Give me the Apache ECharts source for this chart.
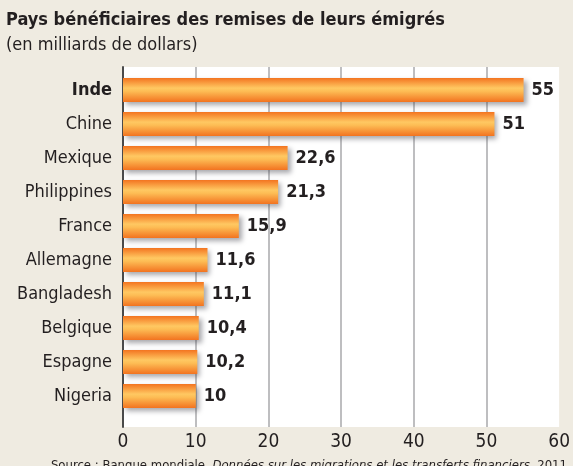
<!DOCTYPE html>
<html>
<head>
<meta charset="utf-8">
<script src="https://cdn.jsdelivr.net/npm/echarts@6/dist/echarts.min.js"></script>
<style>
  html, body { margin: 0; padding: 0; background: #efebe1; }
  #chart { width: 573px; height: 466px; }
</style>
</head>
<body>
<div id="chart"></div>
<script>
const countries = ['Inde', 'Chine', 'Mexique', 'Philippines', 'France', 'Allemagne', 'Bangladesh', 'Belgique', 'Espagne', 'Nigeria']
const values = [55, 51, 22.6, 21.3, 15.9, 11.6, 11.1, 10.4, 10.2, 10]
const xTicks = [0, 10, 20, 30, 40, 50, 60]

const FONT = '"Liberation Sans Narrow", "DejaVu Sans Condensed", sans-serif'
const INK = '#231f20'

const chart = echarts.init(document.getElementById('chart'), null, { renderer: 'canvas' })

const barGradient = new echarts.graphic.LinearGradient(0, 0, 0, 1, [
  { offset: 0, color: '#f37420' },
  { offset: 0.42, color: '#ffc862' },
  { offset: 0.55, color: '#fdbd55' },
  { offset: 1, color: '#f27320' },
])

const option = {
  backgroundColor: '#efebe1',
  animation: false,
  textStyle: { fontFamily: FONT },
  graphic: [
    {
      type: 'text', left: 6, top: 11,
      style: { text: 'Pays bénéficiaires des remises de leurs émigrés', font: 'bold 18px ' + FONT, fill: INK },
    },
    {
      type: 'text', left: 6, top: 36,
      style: { text: '(en milliards de dollars)', font: '18px ' + FONT, fill: INK },
    },
    {
      type: 'text', right: 6, top: 459,
      style: {
        text: '{r|Source : Banque mondiale, }{i|Données sur les migrations et les transferts financiers}{r|, 2011}',
        rich: {
          r: { font: '13px ' + FONT, fill: INK },
          i: { font: 'italic 13px ' + FONT, fill: INK },
        },
      },
    },
  ],
  grid: [
    { left: 123, right: 13, top: 67, bottom: 39, show: true, backgroundColor: '#ffffff', borderWidth: 0 },
    { left: 123, right: 13, top: 73, bottom: 53 },
  ],
  xAxis: [
    {
      gridIndex: 0, type: 'value', min: 0, max: 60, interval: 10,
      axisLine: { show: false }, axisTick: { show: false },
      axisLabel: {
        color: INK, fontSize: 19, margin: 6, fontFamily: FONT,
        formatter: v => xTicks.includes(v) ? String(v) : '',
      },
      splitLine: {
        lineStyle: {
          color: ['#a9a9ab', '#a9a9ab', '#a9a9ab', '#a9a9ab', '#a9a9ab', '#a9a9ab', 'rgba(0,0,0,0)'],
          width: 1.5,
        },
      },
    },
    { gridIndex: 1, type: 'value', min: 0, max: 60, show: false },
  ],
  yAxis: [
    {
      gridIndex: 0, type: 'value', min: 0, max: 1,
      axisLine: { show: true, lineStyle: { color: '#4a4a4a', width: 2 } },
      axisTick: { show: false }, axisLabel: { show: false }, splitLine: { show: false },
    },
    {
      gridIndex: 1, type: 'category', inverse: true, data: countries,
      axisLine: { show: false }, axisTick: { show: false },
      axisLabel: {
        margin: 11, color: INK, fontSize: 18, fontFamily: FONT,
        formatter: (v, i) => i === 0 ? '{b|' + v + '}' : v,
        rich: { b: { fontWeight: 'bold', fontSize: 18, color: INK, fontFamily: FONT } },
      },
    },
  ],
  series: [
    {
      type: 'bar', xAxisIndex: 1, yAxisIndex: 1,
      data: values, barWidth: 24,
      itemStyle: {
        color: barGradient,
        shadowColor: 'rgba(60,60,70,0.45)', shadowBlur: 5, shadowOffsetX: 3, shadowOffsetY: 3,
      },
      label: {
        show: true, position: 'right', distance: 8,
        color: INK, fontWeight: 'bold', fontSize: 18, fontFamily: FONT,
        formatter: p => String(p.value).replace('.', ','),
      },
    },
  ],
}

chart.setOption(option)
window.addEventListener('resize', () => chart.resize())
</script>
</body>
</html>
